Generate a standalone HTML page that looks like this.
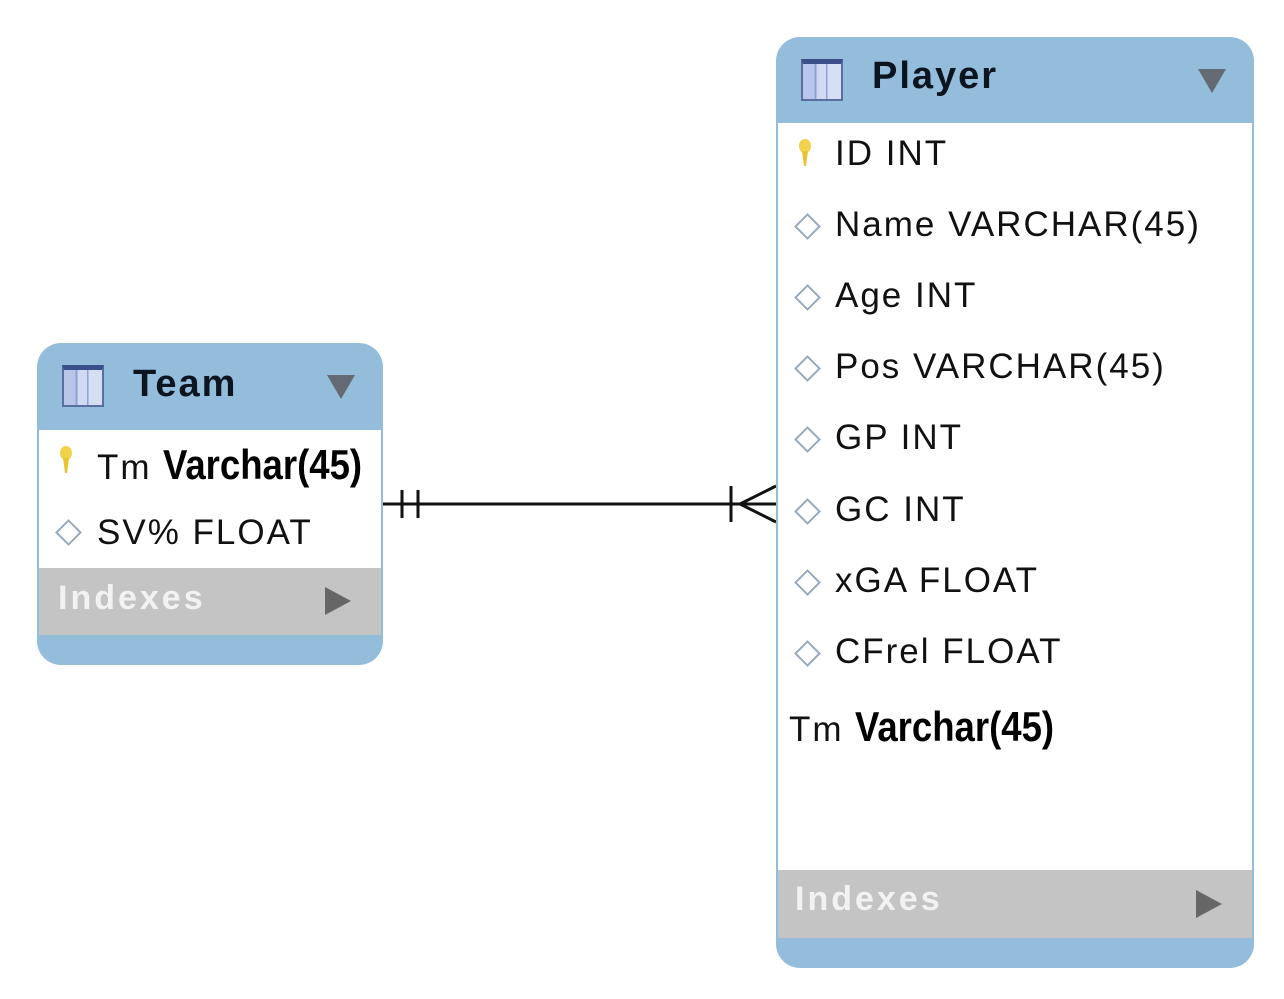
<!DOCTYPE html>
<html><head><meta charset="utf-8"><style>
body{margin:0;width:1284px;height:999px;background:#fff;position:relative;overflow:hidden;font-family:"Liberation Sans",sans-serif;}
.box{position:absolute;border-radius:24px;overflow:hidden;background:#94bddb;}
.body{position:absolute;left:2px;right:2px;background:#fff;}
.idx{position:absolute;left:2px;right:2px;background:#c4c4c4;}
.t{position:absolute;white-space:nowrap;color:#111;font-size:35px;letter-spacing:2px;}
.title{position:absolute;font-weight:bold;font-size:38px;color:#0c1420;letter-spacing:2px;}
.icon{position:absolute;width:42px;height:42px;border:2px solid #5a6fa0;border-top:5px solid #3b4f8a;box-sizing:border-box;background:linear-gradient(90deg,#b9c6ea 0 30%,#8ea0d4 30% 35%,#d0daf2 35% 60%,#8ea0d4 60% 65%,#d6def4 65%);}
.tri{position:absolute;width:0;height:0;border-left:14px solid transparent;border-right:14px solid transparent;border-top:24px solid #636a73;}
.tri2{position:absolute;width:0;height:0;border-top:14px solid transparent;border-bottom:14px solid transparent;border-left:26px solid #666;}
.dia{position:absolute;width:15px;height:15px;border:2px solid #9ab;transform:rotate(45deg);background:#fff;}
.key{position:absolute;width:14px;height:28px;}
.ix{position:absolute;font-size:34px;font-weight:bold;color:#f2f2f2;letter-spacing:3px;}
.nar{font-family:"Liberation Sans Narrow","Liberation Sans",sans-serif;font-weight:bold;color:#000;font-size:42px;letter-spacing:0;display:inline-block;transform:scaleX(0.87);transform-origin:left;}
</style></head><body>
<svg width="1284" height="999" style="position:absolute;left:0;top:0">
<line x1="383" y1="504" x2="776" y2="504" stroke="#111" stroke-width="3"/>
<line x1="402" y1="490" x2="402" y2="518" stroke="#111" stroke-width="3"/>
<line x1="418" y1="490" x2="418" y2="518" stroke="#111" stroke-width="3"/>
<line x1="731" y1="486" x2="731" y2="522" stroke="#111" stroke-width="3"/>
<line x1="740" y1="504" x2="776" y2="486" stroke="#111" stroke-width="3"/>
<line x1="740" y1="504" x2="776" y2="522" stroke="#111" stroke-width="3"/>
</svg>

<div class="box" style="left:37px;top:343px;width:346px;height:322px;">
  <div class="body" style="top:87px;height:138px;"></div>
  <div class="idx" style="top:225px;height:67px;"></div>
  <div class="icon" style="left:25px;top:22px;"></div>
  <div class="title" style="left:96px;top:20px;">Team</div>
  <div class="tri" style="left:290px;top:32px;"></div>
  <svg class="key" style="left:22px;top:103px" viewBox="0 0 14 28"><ellipse cx="7" cy="7" rx="6" ry="7" fill="#f2d24a"/><path d="M4 12 L10 12 L8 27 L6 27Z" fill="#e9c232"/></svg>
  <div class="t" style="left:60px;top:98px;">Tm <span class="nar">Varchar(45)</span></div>
  <div class="dia" style="left:22px;top:180px;"></div>
  <div class="t" style="left:60px;top:170px;">SV% FLOAT</div>
  <div class="ix" style="left:21px;top:236px;">Indexes</div>
  <div class="tri2" style="left:288px;top:244px;"></div>
</div>

<div class="box" style="left:776px;top:37px;width:478px;height:931px;">
  <div class="body" style="top:86px;height:747px;"></div>
  <div class="idx" style="top:833px;height:68px;"></div>
  <div class="icon" style="left:25px;top:22px;"></div>
  <div class="title" style="left:96px;top:18px;">Player</div>
  <div class="tri" style="left:422px;top:32px;"></div>
  <svg class="key" style="left:22px;top:102px" viewBox="0 0 14 28"><ellipse cx="7" cy="7" rx="6" ry="7" fill="#f2d24a"/><path d="M4 12 L10 12 L8 27 L6 27Z" fill="#e9c232"/></svg>
  <div class="t" style="left:59px;top:97px;">ID INT</div>
  <div class="dia" style="left:22px;top:180px;"></div><div class="t" style="left:59px;top:168px;">Name VARCHAR(45)</div>
  <div class="dia" style="left:22px;top:251px;"></div><div class="t" style="left:59px;top:239px;">Age INT</div>
  <div class="dia" style="left:22px;top:322px;"></div><div class="t" style="left:59px;top:310px;">Pos VARCHAR(45)</div>
  <div class="dia" style="left:22px;top:393px;"></div><div class="t" style="left:59px;top:381px;">GP INT</div>
  <div class="dia" style="left:22px;top:465px;"></div><div class="t" style="left:59px;top:453px;">GC INT</div>
  <div class="dia" style="left:22px;top:536px;"></div><div class="t" style="left:59px;top:524px;">xGA FLOAT</div>
  <div class="dia" style="left:22px;top:607px;"></div><div class="t" style="left:59px;top:595px;">CFrel FLOAT</div>
  <div class="t" style="left:13px;top:666px;">Tm <span class="nar">Varchar(45)</span></div>
  <div class="ix" style="left:19px;top:843px;">Indexes</div>
  <div class="tri2" style="left:420px;top:853px;"></div>
</div>
</body></html>
